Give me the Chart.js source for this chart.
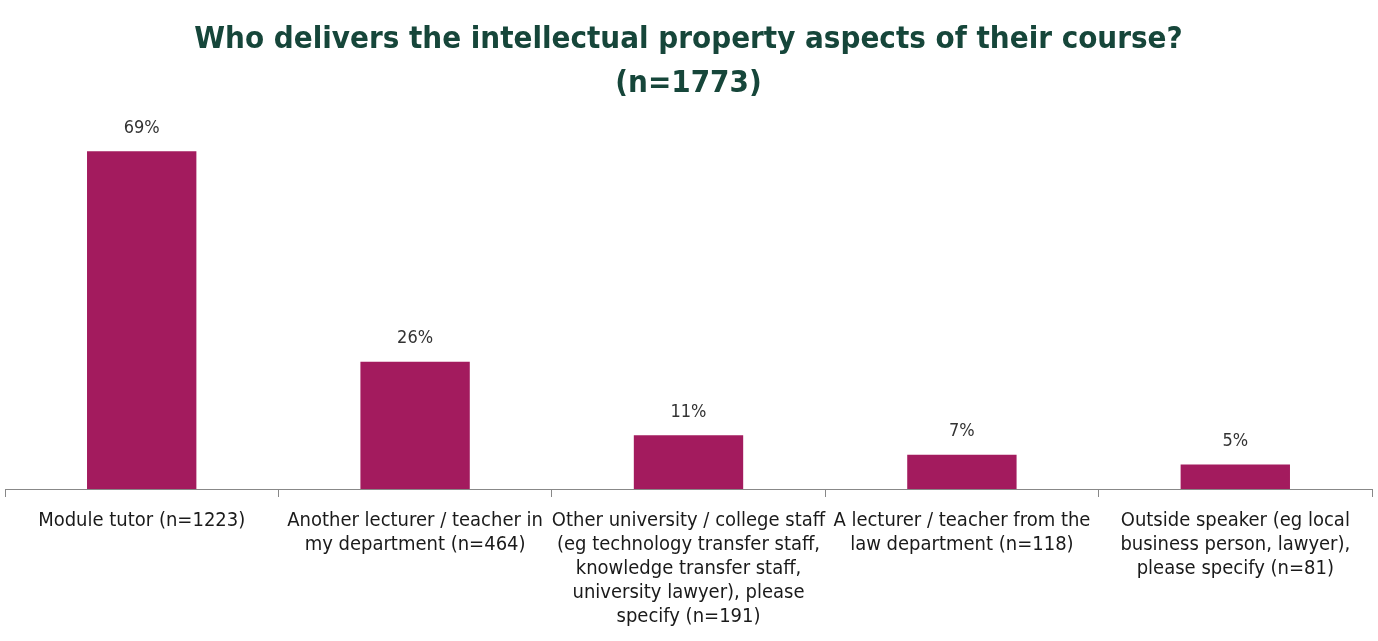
<!DOCTYPE html>
<html>
<head>
<meta charset="utf-8">
<script src="https://cdn.jsdelivr.net/npm/chart.js@4/dist/chart.umd.min.js"></script>
<style>
  html, body { margin: 0; padding: 0; background: #ffffff; }
  #wrap { width: 1378px; height: 641px; position: relative; }
</style>
</head>
<body>
<div id="wrap"><canvas id="c" width="1378" height="641"></canvas></div>
<script>
const titleLines = ["Who delivers the intellectual property aspects of their course?", "(n=1773)"];
const categories = [
  ["Module tutor (n=1223)"],
  ["Another lecturer / teacher in", "my department (n=464)"],
  ["Other university / college staff", "(eg technology transfer staff,", "knowledge transfer staff,", "university lawyer), please", "specify (n=191)"],
  ["A lecturer / teacher from the", "law department (n=118)"],
  ["Outside speaker (eg local", "business person, lawyer),", "please specify (n=81)"]
];
const percentValues = [69, 26, 11, 7, 5];

const FONT = "'Liberation Sans Narrow', 'DejaVu Sans Condensed', 'Liberation Sans', sans-serif";

const valueLabelPlugin = {
  id: 'valueLabels',
  afterDatasetsDraw(chart) {
    const ctx = chart.ctx;
    const meta = chart.getDatasetMeta(0);
    ctx.save();
    ctx.font = "18px " + FONT;
    ctx.fillStyle = '#333333';
    ctx.textAlign = 'center';
    ctx.textBaseline = 'middle';
    meta.data.forEach((bar, i) => {
      ctx.fillText(percentValues[i] + '%', bar.x, bar.y - 23);
    });
    ctx.restore();
  }
};

new Chart(document.getElementById('c'), {
  type: 'bar',
  data: {
    labels: categories,
    datasets: [{
      data: percentValues,
      backgroundColor: '#A31B5E',
      borderWidth: 0,
      barPercentage: 0.4,
      categoryPercentage: 1.0
    }]
  },
  options: {
    responsive: false,
    animation: false,
    layout: { padding: { left: 5, right: 6, top: 0, bottom: 0 } },
    plugins: {
      legend: { display: false },
      tooltip: { enabled: false },
      title: {
        display: true,
        text: titleLines,
        color: '#16463A',
        font: { family: FONT, size: 31, weight: 'bold', lineHeight: 1.45 },
        padding: { top: 17, bottom: 15 }
      }
    },
    scales: {
      y: { display: false, min: 0, max: 75 },
      x: {
        grid: { display: true, drawOnChartArea: false, drawTicks: true, tickLength: 8, color: '#888888' },
        border: { display: true, color: '#888888', width: 1 },
        ticks: {
          color: '#1a1a1a',
          font: { family: FONT, size: 20, lineHeight: 1.2 },
          padding: 12,
          maxRotation: 0,
          minRotation: 0,
          autoSkip: false
        }
      }
    }
  },
  plugins: [valueLabelPlugin]
});
</script>
</body>
</html>
